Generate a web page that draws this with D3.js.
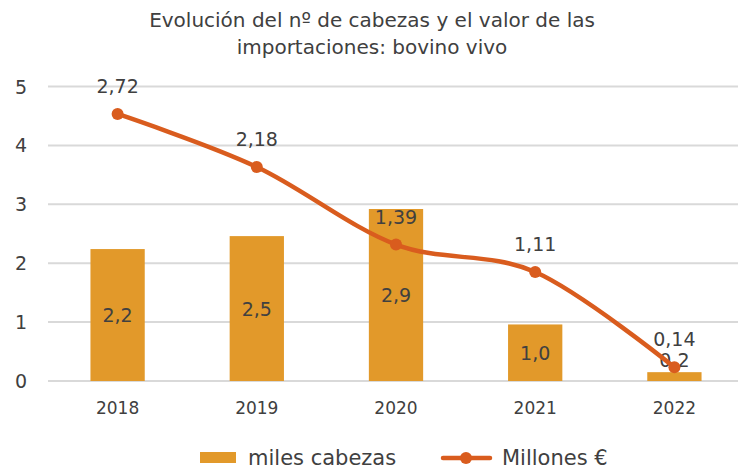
<!DOCTYPE html>
<html>
<head>
<meta charset="utf-8">
<script src="https://cdn.jsdelivr.net/npm/d3@7"></script>
<style>
    body { margin: 0; background: #fff; }
    svg { display: block; font-family: "DejaVu Sans", sans-serif; }
</style>
</head>
<body>
<svg id="chart" width="738" height="469"></svg>
<script>
// data
var years = ["2018", "2019", "2020", "2021", "2022"];
var cabezas = [2.24, 2.46, 2.92, 0.96, 0.15];      // miles cabezas (left axis)
var millones = [2.72, 2.18, 1.39, 1.11, 0.14];     // Millones € (hidden right axis)
var yTicks = [0, 1, 2, 3, 4, 5];
var titleLines = ["Evolución del nº de cabezas y el valor de las", "importaciones: bovino vivo"];

var barColor = "#E2992A";
var lineColor = "#D95C1E";
var textColor = "#404040";

var svg = d3.select("#chart");

var x = d3.scaleBand().domain(years).range([48, 744]).paddingInner(0.61).paddingOuter(0.305);
var y = d3.scaleLinear().domain([0, 5]).range([381, 86.5]);
var y2 = d3.scaleLinear().domain([0, 3]).range([381, 86.5]);

function comma(v, d) {
    var p = Math.pow(10, d);
    return (Math.round(v * p) / p).toFixed(d).replace(".", ",");
}

// title
svg.append("g").selectAll("text").data(titleLines).enter().append("text")
    .attr("x", 372)
    .attr("y", function(d, i) { return 27 + i * 27; })
    .attr("text-anchor", "middle")
    .attr("font-size", "20px")
    .attr("fill", textColor)
    .text(function(d) { return d; });

// grid
svg.append("g").selectAll("line").data(yTicks).enter().append("line")
    .attr("x1", 48).attr("x2", 738)
    .attr("y1", function(d) { return y(d); })
    .attr("y2", function(d) { return y(d); })
    .attr("stroke", "#D9D9D9")
    .attr("stroke-width", 2);

// y axis labels
svg.append("g").selectAll("text").data(yTicks).enter().append("text")
    .attr("x", 21)
    .attr("y", function(d) { return y(d) + 7; })
    .attr("text-anchor", "middle")
    .attr("font-size", "19px")
    .attr("fill", textColor)
    .text(function(d) { return d; });

// x axis labels
svg.append("g").selectAll("text").data(years).enter().append("text")
    .attr("x", function(d, i) { return x(d) + x.bandwidth() / 2; })
    .attr("y", 414)
    .attr("text-anchor", "middle")
    .attr("font-size", "17px")
    .attr("fill", textColor)
    .text(function(d) { return d; });

// bars
svg.append("g").selectAll("rect").data(cabezas).enter().append("rect")
    .attr("x", function(d, i) { return x(years[i]); })
    .attr("y", function(d) { return y(d); })
    .attr("width", x.bandwidth())
    .attr("height", function(d) { return y(0) - y(d); })
    .attr("fill", barColor);

// bar labels
svg.append("g").selectAll("text").data(cabezas).enter().append("text")
    .attr("x", function(d, i) { return x(years[i]) + x.bandwidth() / 2; })
    .attr("y", function(d) {
        var mid = (y(d) + y(0)) / 2;
        return Math.min(mid, y(0) - 21) + 7;
    })
    .attr("text-anchor", "middle")
    .attr("font-size", "19px")
    .attr("fill", textColor)
    .text(function(d) { return comma(d, 1); });

// line
var line = d3.line()
    .x(function(d, i) { return x(years[i]) + x.bandwidth() / 2; })
    .y(function(d) { return y2(d); })
    .curve(d3.curveCardinal.tension(0));

svg.append("path")
    .datum(millones)
    .attr("d", line)
    .attr("fill", "none")
    .attr("stroke", lineColor)
    .attr("stroke-width", 4.5)
    .attr("stroke-linecap", "round");

svg.append("g").selectAll("circle").data(millones).enter().append("circle")
    .attr("cx", function(d, i) { return x(years[i]) + x.bandwidth() / 2; })
    .attr("cy", function(d) { return y2(d); })
    .attr("r", 6)
    .attr("fill", lineColor);

svg.append("g").selectAll("text").data(millones).enter().append("text")
    .attr("x", function(d, i) { return x(years[i]) + x.bandwidth() / 2; })
    .attr("y", function(d) { return y2(d) - 28 + 7; })
    .attr("text-anchor", "middle")
    .attr("font-size", "19px")
    .attr("fill", textColor)
    .text(function(d) { return comma(d, 2); });

// legend
var lg = svg.append("g");
lg.append("rect").attr("x", 200).attr("y", 452).attr("width", 36).attr("height", 11).attr("fill", barColor);
lg.append("text").attr("x", 248).attr("y", 465).attr("font-size", "21px").attr("fill", textColor).text("miles cabezas");
lg.append("line").attr("x1", 443).attr("x2", 490).attr("y1", 458).attr("y2", 458)
    .attr("stroke", lineColor).attr("stroke-width", 4.5).attr("stroke-linecap", "round");
lg.append("circle").attr("cx", 466).attr("cy", 458).attr("r", 6).attr("fill", lineColor);
lg.append("text").attr("x", 502).attr("y", 465).attr("font-size", "21px").attr("fill", textColor).text("Millones €");
</script>
</body>
</html>
